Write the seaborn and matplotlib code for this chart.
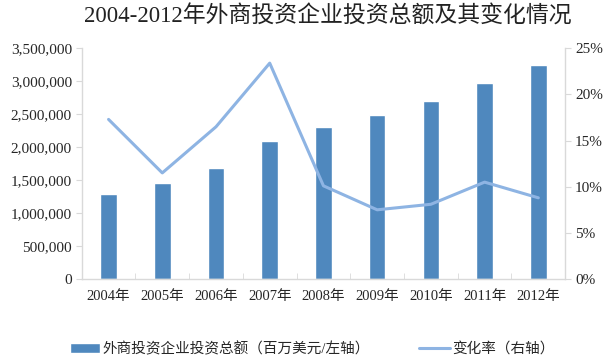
import matplotlib
matplotlib.use('Agg')
import matplotlib.pyplot as plt
import matplotlib.ticker as mticker
import seaborn as sns
import pandas as pd

# 数据
anos = ['2004年', '2005年', '2006年', '2007年', '2008年', '2009年', '2010年', '2011年', '2012年']
investimento = [1290000, 1460000, 1690000, 2100000, 2310000, 2490000, 2700000, 2980000, 3250000]
taxa = [0.173, 0.115, 0.165, 0.234, 0.101, 0.075, 0.081, 0.105, 0.088]

titulo = '2004-2012年外商投资企业投资总额及其变化情况'
rotulo_barra = '外商投资企业投资总额（百万美元/左轴）'
rotulo_linha = '变化率（右轴）'

df = pd.DataFrame({'ano': anos, 'valor': investimento, 'taxa': taxa})

sns.set_style('white')
plt.rcParams['font.family'] = ['Liberation Serif', 'Noto Sans CJK SC', 'DejaVu Sans']

cor_barra = '#4F88BE'
cor_linha = '#8EB4E3'
cor_eixo = '#D9D9D9'

fig = plt.figure(figsize=(6.12, 3.57), dpi=100)
ax = fig.add_axes([0.1335, 0.2185, 0.79, 0.646])

sns.barplot(data=df, x='ano', y='valor', color=cor_barra, width=0.31,
            saturation=1, ax=ax, label=rotulo_barra)

ax2 = ax.twinx()
sns.lineplot(data=df, x='ano', y='taxa', color=cor_linha, linewidth=2.2,
             ax=ax2, label=rotulo_linha)

ax.set_xlim(-0.5, len(anos) - 0.5)
ax.set_ylim(0, 3500000)
ax2.set_ylim(0, 0.25)
ax.yaxis.set_major_locator(mticker.MultipleLocator(500000))
ax.yaxis.set_major_formatter(mticker.FuncFormatter(lambda v, p: f'{int(v):,}'))
ax2.yaxis.set_major_locator(mticker.MultipleLocator(0.05))
ax2.yaxis.set_major_formatter(mticker.FuncFormatter(lambda v, p: f'{v:.0%}'))

ax.set_xlabel('')
ax.set_ylabel('')
ax2.set_xlabel('')
ax2.set_ylabel('')

for a in (ax, ax2):
    for s in a.spines.values():
        s.set_color(cor_eixo)
        s.set_linewidth(1)
    a.spines['top'].set_visible(False)
ax.spines['right'].set_visible(False)
ax2.spines['left'].set_visible(False)
ax2.spines['bottom'].set_visible(False)

ax.tick_params(axis='y', length=4, color=cor_eixo, labelsize=11, pad=3, left=True)
ax2.tick_params(axis='y', length=4, color=cor_eixo, labelsize=11, pad=3, right=True)
ax.tick_params(axis='x', length=0, labelsize=10.5, pad=8)
ax.set_xticks([i - 0.5 for i in range(len(anos) + 1)], minor=True)
ax.tick_params(axis='x', which='minor', length=4, direction='in', color=cor_eixo, bottom=True)

# remove as legendas individuais e junta numa só embaixo
if ax.legend_:
    ax.legend_.remove()
if ax2.legend_:
    ax2.legend_.remove()
h1, l1 = ax.get_legend_handles_labels()
h2, l2 = ax2.get_legend_handles_labels()
fig.legend(h1 + h2, l1 + l2, loc='lower center', bbox_to_anchor=(0.51, -0.035),
           ncol=2, frameon=False, fontsize=10.5, columnspacing=3.4,
           handlelength=2.1, handletextpad=0.15)

fig.suptitle(titulo, x=0.535, y=0.985, fontsize=16.5, color='#222222')

plt.savefig('out.png', dpi=100)
